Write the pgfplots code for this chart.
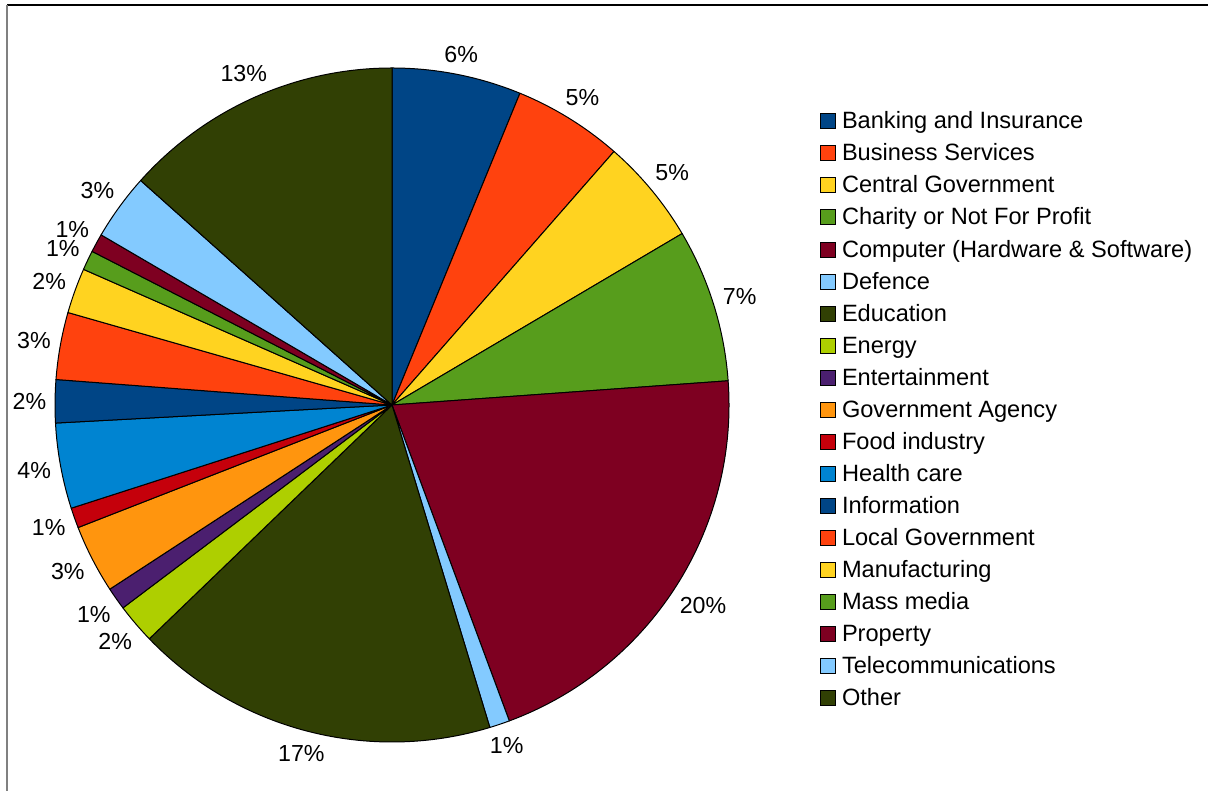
\documentclass[border=0pt]{standalone}
\usepackage{pgfplots}
\pgfplotsset{compat=1.18}
\usepackage{pgfplotstable}
\usepackage{fontspec}
\setmainfont{Liberation Sans}

\definecolor{lo1}{HTML}{004586}
\definecolor{lo2}{HTML}{FF420E}
\definecolor{lo3}{HTML}{FFD320}
\definecolor{lo4}{HTML}{579D1C}
\definecolor{lo5}{HTML}{7E0021}
\definecolor{lo6}{HTML}{83CAFF}
\definecolor{lo7}{HTML}{314004}
\definecolor{lo8}{HTML}{AECF00}
\definecolor{lo9}{HTML}{4B1F6F}
\definecolor{lo10}{HTML}{FF950E}
\definecolor{lo11}{HTML}{C5000B}
\definecolor{lo12}{HTML}{0084D1}

% share of each sector (percent), label shown, slice colour
\pgfplotstableread[col sep=comma]{
name,value,label,color
Banking and Insurance,6.20,6,lo1
Business Services,5.25,5,lo2
Central Government,5.06,5,lo3
Charity or Not For Profit,7.35,7,lo4
Computer (Hardware \& Software),20.49,20,lo5
Defence,0.97,1,lo6
Education,17.49,17,lo7
Energy,1.92,2,lo8
Entertainment,1.08,1,lo9
Government Agency,3.28,3,lo10
Food industry,0.97,1,lo11
Health care,4.10,4,lo12
Information,2.06,2,lo1
Local Government,3.22,3,lo2
Manufacturing,2.17,2,lo3
Mass media,0.94,1,lo4
Property,0.89,1,lo5
Telecommunications,3.18,3,lo6
Other,13.40,13,lo7
}\piedata

\begin{document}
\fontsize{11.6pt}{13.9pt}\selectfont
\begin{tikzpicture}
\useasboundingbox (0,0) rectangle (604pt,395.5pt);
\draw[black, line width=0.65pt] (3.5pt,393pt) -- (604pt,393pt);
\draw[gray, line width=0.8pt] (3.5pt,393pt) -- (3.5pt,0pt);

\def\total{0}
\pgfplotsforeachungrouped \i in {0,...,18}{%
  \pgfplotstablegetelem{\i}{value}\of\piedata
  \pgfmathsetmacro\total{\total+\pgfplotsretval}%
}

\begin{axis}[
  at={(196pt,193pt)}, anchor=center,
  x=168.5pt, y=168.5pt,
  xmin=-1, xmax=1, ymin=-1, ymax=1,
  scale only axis, hide axis, clip=false,
  legend cell align=left,
  legend image code/.code={\draw[#1] (0pt,-3pt) rectangle (7.5pt,4.5pt);},
  legend style={
    at={(axis description cs:1.135,0.935)}, anchor=north west,
    draw=none, fill=none, inner sep=0pt, outer sep=0pt,
    row sep=5.03pt, column sep=3pt,
    nodes={inner sep=0pt, text height=8.5pt, text depth=2.5pt,
      font=\fontsize{11.8pt}{14pt}\selectfont},
  },
]
\def\cum{0}
\pgfplotsforeachungrouped \i in {0,...,18}{%
  \pgfplotstablegetelem{\i}{value}\of\piedata \let\val\pgfplotsretval
  \pgfplotstablegetelem{\i}{label}\of\piedata \let\lab\pgfplotsretval
  \pgfplotstablegetelem{\i}{color}\of\piedata \let\col\pgfplotsretval
  \pgfplotstablegetelem{\i}{name}\of\piedata \let\nam\pgfplotsretval
  \pgfmathsetmacro\sa{90-360*(\cum/\total)}%
  \pgfmathsetmacro\ea{90-360*((\cum+\val)/\total)}%
  \pgfmathsetmacro\ma{(\sa+\ea)/2}%
  % label width: digits 0.556em, percent sign 0.889em
  \pgfmathsetmacro\lw{11.6*(0.889+0.556*(1+(\lab>9)))}%
  \pgfmathsetmacro\rr{1+(4.4+abs(cos(\ma))*\lw/2+abs(sin(\ma))*4.2)/168.5}%
  \pgfmathsetmacro\lx{\rr*cos(\ma)}%
  \pgfmathsetmacro\ly{\rr*sin(\ma)}%
  \edef\cmd{%
    \noexpand\fill[fill=\col, draw=black, line width=0.5pt, line join=round]
      (axis cs:0,0) -- (axis cs:{cos(\sa)},{sin(\sa)})
      arc[start angle=\sa, end angle=\ea, radius=168.5pt] -- cycle;
    \noexpand\node[inner sep=0pt, anchor=center] at (axis cs:\lx,\ly) {\lab\noexpand\%};
    \noexpand\addlegendimage{fill=\col, draw=black, line width=0.5pt}
    \noexpand\addlegendentry{\unexpanded\expandafter{\nam}}%
  }%
  \cmd
  \pgfmathsetmacro\cum{\cum+\val}%
}
\end{axis}
\end{tikzpicture}
\end{document}
